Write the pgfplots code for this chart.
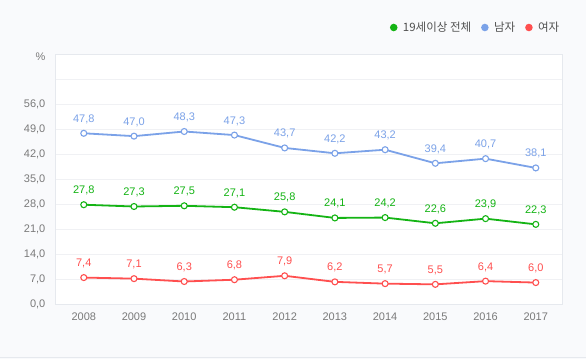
\documentclass[border=0pt]{standalone}
\usepackage{fontspec}
\setmainfont{Liberation Sans}
\newfontfamily\kr{Noto Sans CJK KR}
\usepackage{pgfplots}
\pgfplotsset{compat=1.18}
\definecolor{bg}{HTML}{F9FAFC}
\definecolor{frame}{HTML}{E6E9EE}
\definecolor{gridc}{HTML}{F0F1F4}
\definecolor{tickc}{HTML}{7A7A7A}
\definecolor{cblue}{HTML}{7BA2E8}
\definecolor{cgreen}{HTML}{14B414}
\definecolor{cred}{HTML}{FF4F4F}
\definecolor{legtext}{HTML}{505050}
\begin{document}
\begin{tikzpicture}[x=1pt,y=1pt]
\useasboundingbox (0,0) rectangle (586,359);
\fill[bg] (0,0) rectangle (586,359);
\draw[frame, line width=1pt] (0,1.7) -- (586,1.7);
\node[anchor=east, inner sep=0, font=\fontsize{11}{12}\selectfont, text=tickc] at (45.5,302.3) {\%};
\begin{axis}[
  at={(55.5pt,55pt)}, anchor=south west,
  scale only axis, width=507pt, height=250pt,
  xmin=2007.437, xmax=2017.532, ymin=0, ymax=70,
  axis background/.style={fill=white},
  axis line style={draw=frame, line width=0.8pt},
  ymajorgrids, major grid style={draw=gridc, line width=0.8pt},
  major tick length=0pt,
  ytick={0,7,...,63},
  yticklabels={{0,0},{7,0},{14,0},{21,0},{28,0},{35,0},{42,0},{49,0},{56,0},{}},
  xtick={2008,...,2017},
  xticklabels={2008,2009,2010,2011,2012,2013,2014,2015,2016,2017},
  ticklabel style={font=\fontsize{11}{12}\selectfont, text=tickc, inner sep=0pt},
  yticklabel style={anchor=east, xshift=-10pt},
  xticklabel style={anchor=center, yshift=-12.7pt},
  /pgf/number format/assume math mode=true,
  /pgf/number format/.cd, fixed, fixed zerofill, precision=1, use comma, 1000 sep={},
  /pgfplots/.cd,
  nodes near coords,
  nodes near coords style={anchor=base, inner sep=0pt, yshift=11pt, font=\fontsize{11}{12}\selectfont},
  every axis plot/.append style={line width=1.8pt, mark=*, mark size=3pt,
     mark options={fill=white, line width=1.1pt}},
  legend columns=3,
  legend style={at={(1,1)}, anchor=east, yshift=26.5pt, xshift=-1pt, draw=none, fill=none,
     font=\kr\fontsize{11.5}{13}\selectfont, text=legtext, inner sep=0pt,
     /tikz/every odd column/.append style={column sep=3.5pt},
     /tikz/every even column/.append style={column sep=8pt}},
  legend image code/.code={\fill (0pt,0pt) circle (2.8pt);},
  clip=false,
]
\addplot[color=cgreen, every node near coord/.append style={text=cgreen}] coordinates {
(2008,27.8) (2009,27.3) (2010,27.5) (2011,27.1) (2012,25.8) (2013,24.1) (2014,24.2) (2015,22.6) (2016,23.9) (2017,22.3)};
\addlegendentry{19세이상 전체}
\addplot[color=cblue, every node near coord/.append style={text=cblue}] coordinates {
(2008,47.8) (2009,47.0) (2010,48.3) (2011,47.3) (2012,43.7) (2013,42.2) (2014,43.2) (2015,39.4) (2016,40.7) (2017,38.1)};
\addlegendentry{남자}
\addplot[color=cred, every node near coord/.append style={text=cred}] coordinates {
(2008,7.4) (2009,7.1) (2010,6.3) (2011,6.8) (2012,7.9) (2013,6.2) (2014,5.7) (2015,5.5) (2016,6.4) (2017,6.0)};
\addlegendentry{여자}
\end{axis}
\end{tikzpicture}
\end{document}
